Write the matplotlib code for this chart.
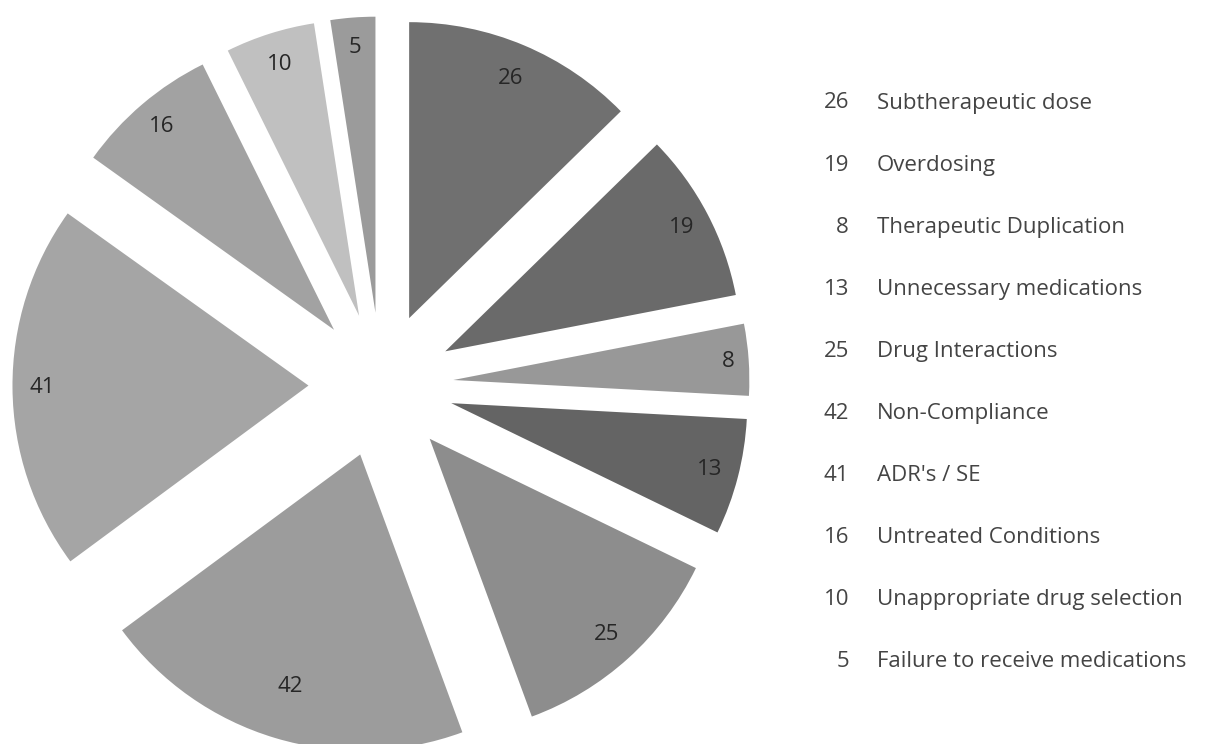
"""
Exploded grayscale pie of drug-related problems with a value/label list on the right
"""
import matplotlib.pyplot as plt
import numpy as np

plt.rcParams['font.family'] = ['Open Sans', 'DejaVu Sans']

categories = ['Subtherapeutic dose', 'Overdosing', 'Therapeutic Duplication',
              'Unnecessary medications', 'Drug Interactions', 'Non-Compliance',
              "ADR's / SE", 'Untreated Conditions', 'Unappropriate drug selection',
              'Failure to receive medications']
counts = [26, 19, 8, 13, 25, 42, 41, 16, 10, 5]
slice_colors = ['#707070', '#6a6a6a', '#989898', '#646464', '#8d8d8d',
                '#9c9c9c', '#a5a5a5', '#a2a2a2', '#c0c0c0', '#9b9b9b']
# radial position of each value label, as a fraction of the radius
label_pos = [0.88, 0.9, 0.93, 0.9, 0.89, 0.82, 0.9, 0.9, 0.89, 0.9]

W, H = 1226, 744
cx, cy = 381, 359          # pie centre in pixels (from bottom-left)
R = 296                    # pie radius in pixels

fig = plt.figure(figsize=(W / 100, H / 100), dpi=100, facecolor='white')
ax = fig.add_axes([0, 0, 1, 1])

wedges, _ = ax.pie(counts, explode=[0.245] * len(counts), colors=slice_colors,
                   startangle=90, counterclock=False, radius=1,
                   labeldistance=None, wedgeprops=dict(linewidth=0))

# value labels placed inside the outer end of each exploded wedge
for w, v, f in zip(wedges, counts, label_pos):
    ang = np.deg2rad((w.theta1 + w.theta2) / 2)
    x0, y0 = w.center
    ax.text(x0 + f * w.r * np.cos(ang), y0 + f * w.r * np.sin(ang), str(v),
            ha='center', va='center', fontsize=16, color='#262626')

# pie() sets its own limits, so override them afterwards
ax.set_xlim(-cx / R, (W - cx) / R)
ax.set_ylim(-cy / R, (H - cy) / R)
ax.set_aspect('equal', adjustable='datalim')
ax.axis('off')

# value / label list on the right
y0, step = 1 - 103 / H, 62.1 / H
for i, (v, name) in enumerate(zip(counts, categories)):
    y = y0 - i * step
    fig.text(849 / W, y, str(v), ha='right', va='center', fontsize=16, color='#444444')
    fig.text(877 / W, y, name, ha='left', va='center', fontsize=16, color='#444444')

fig.savefig('out.png', dpi=100, facecolor='white')
plt.close(fig)
